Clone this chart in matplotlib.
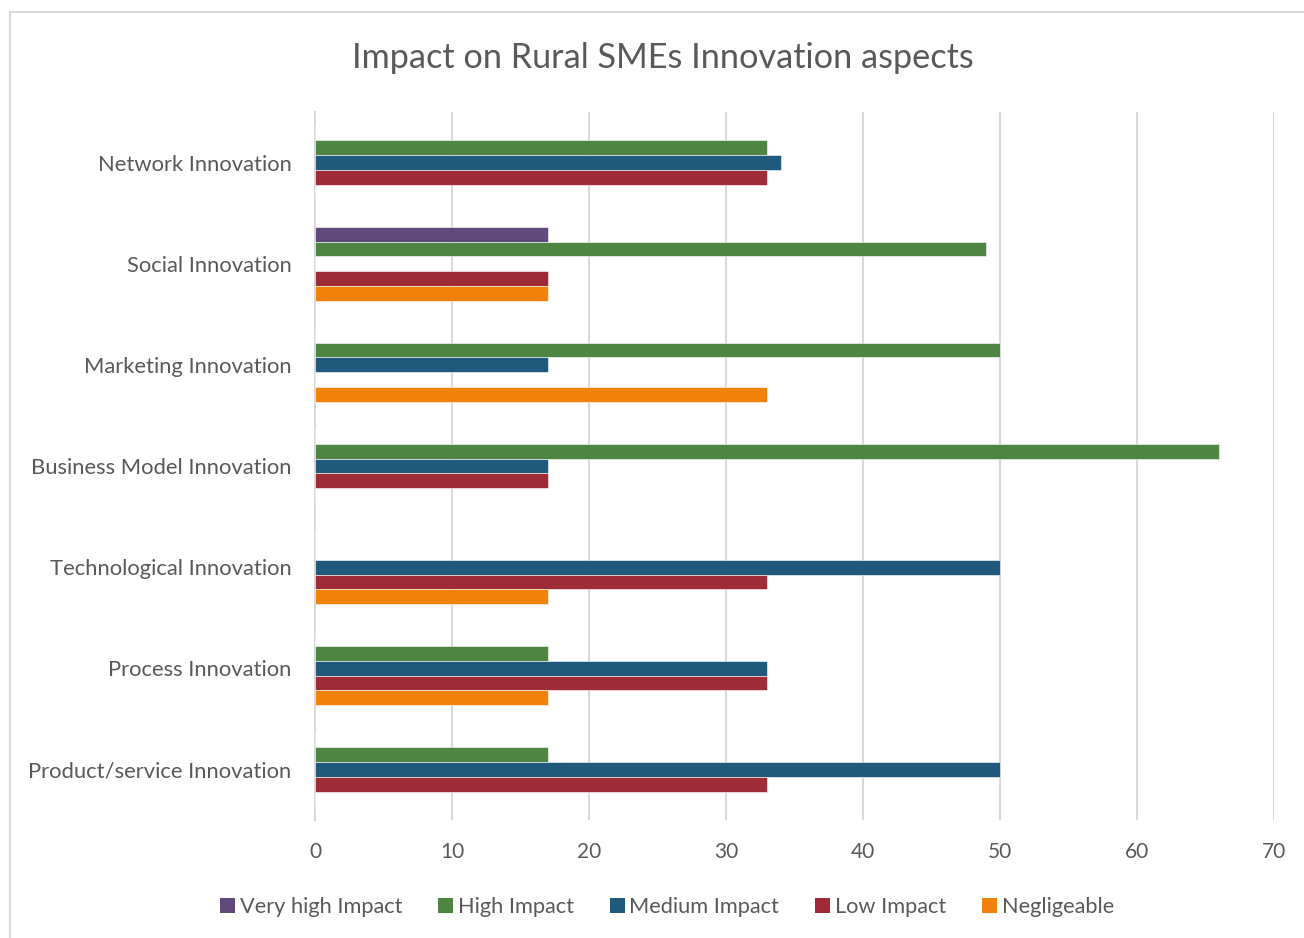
import matplotlib
matplotlib.use("Agg")
import matplotlib.pyplot as plt
import numpy as np
from matplotlib.lines import Line2D
from matplotlib.patches import Patch

categories = ["Product/service Innovation", "Process Innovation", "Technological Innovation",
              "Business Model Innovation", "Marketing Innovation", "Social Innovation",
              "Network Innovation"]
series_names = ["Very high Impact", "High Impact", "Medium Impact", "Low Impact", "Negligeable"]
very_high = [0, 0, 0, 0, 0, 17, 0]
high = [17, 17, 0, 66, 50, 49, 33]
medium = [50, 33, 50, 17, 17, 0, 34]
low = [33, 33, 33, 17, 0, 17, 33]
negligeable = [0, 17, 17, 0, 33, 17, 0]
colors = ["#604A7B", "#4E8542", "#1F5A7C", "#A02B38", "#F0820B"]
xticks = [0, 10, 20, 30, 40, 50, 60, 70]

plt.rcParams['font.family'] = ['Lato', 'DejaVu Sans']
text_color = "#595959"

W, H = 1304, 938
fig = plt.figure(figsize=(W / 100, H / 100), dpi=100)
ax = fig.add_axes([315 / W, 1 - 820 / H, (1274 - 315) / W, (820 - 112) / H])

data = [very_high, high, medium, low, negligeable]
y = np.arange(len(categories))
bh = 0.146
for i, (vals, c) in enumerate(zip(data, colors)):
    offset = (2 - i) * bh
    ax.barh(y + offset, vals, height=bh, color=c, edgecolor="white", linewidth=0.4, zorder=3)

ax.set_ylim(-0.5, 6.5)
ax.set_xlim(0, 70)
ax.set_yticks(y)
ax.set_yticklabels(categories, fontsize=15.8, color=text_color)
ax.set_xticks(xticks)
ax.set_xticklabels([str(t) for t in xticks], fontsize=15, color=text_color)
ax.tick_params(axis='y', length=0, pad=17)
ax.tick_params(axis='x', length=0, pad=16)
ax.grid(axis='x', color="#D9D9D9", linewidth=1.5, zorder=0)
for s in ["top", "right", "bottom"]:
    ax.spines[s].set_visible(False)
ax.spines["left"].set_color("#D9D9D9")
ax.spines["left"].set_linewidth(1.5)

fig.text(663 / W, 1 - 58 / H, "Impact on Rural SMEs Innovation aspects", ha="center", va="center",
         fontsize=24.7, color=text_color)

handles = [Patch(facecolor=c, edgecolor="none") for c in colors]
fig.legend(handles, series_names, loc="center", bbox_to_anchor=(667 / W, 1 - 907 / H), ncol=5,
           frameon=False, fontsize=15.7, labelcolor=text_color, handlelength=0.7, handleheight=0.7,
           handletextpad=0.2, columnspacing=1.65)

# outer chart border (top and left visible)
fig.add_artist(Line2D([10 / W, 1.0], [1 - 12.5 / H, 1 - 12.5 / H], transform=fig.transFigure,
                      color="#D9D9D9", linewidth=1.5))
fig.add_artist(Line2D([10 / W, 10 / W], [0, 1 - 12.5 / H], transform=fig.transFigure,
                      color="#D9D9D9", linewidth=1.5))

fig.savefig("out.png", dpi=100, facecolor="white")
